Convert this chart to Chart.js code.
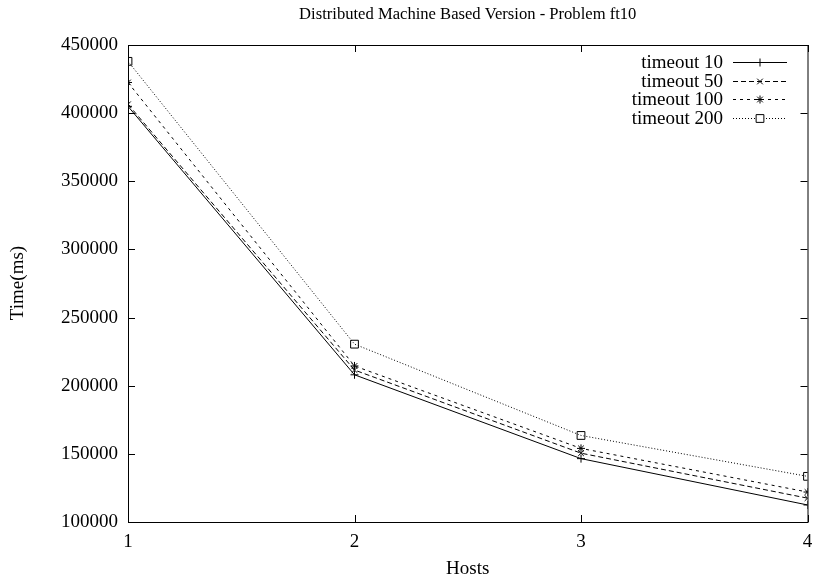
<!DOCTYPE html>
<html>
<head>
<meta charset="utf-8">
<script src="https://cdn.jsdelivr.net/npm/chart.js@4"></script>
<style>
  html, body { margin: 0; padding: 0; background: #fff; }
  #wrap { width: 814px; height: 579px; }
</style>
</head>
<body>
<div id="wrap"><canvas id="chart"></canvas></div>
<script>
const hosts = [1, 2, 3, 4];
const timeout10 = [405000, 208000, 146500, 112500];
const timeout50 = [406500, 211500, 150500, 117500];
const timeout100 = [422500, 214500, 154000, 122000];
const timeout200 = [438000, 230500, 163500, 133500];
const yTicks = [100000, 150000, 200000, 250000, 300000, 350000, 400000, 450000];

const FONT = "Liberation Serif";

function pts(vals) { return hosts.map((h, i) => ({ x: h, y: vals[i] })); }

function series(label, vals, dash, style, r) {
  return {
    label, data: pts(vals),
    borderColor: "#000", borderWidth: 1, borderDash: dash,
    pointStyle: style, pointRadius: r, pointBorderWidth: 1,
    pointBorderColor: "#000", pointBackgroundColor: "rgba(0,0,0,0)",
    fill: false, tension: 0
  };
}

// gnuplot-like frame, inward ticks, legend and labels
const frame = {
  id: "frame",
  afterDraw(chart) {
    const { ctx, chartArea: a, scales } = chart;
    ctx.save();
    ctx.strokeStyle = "#000";
    ctx.lineWidth = 1;
    ctx.setLineDash([]);
    ctx.strokeRect(a.left + 0.5, a.top + 0.5, a.right - a.left, a.bottom - a.top);
    const t = 7;
    ctx.beginPath();
    yTicks.forEach(v => {
      const y = Math.round(scales.y.getPixelForValue(v)) + 0.5;
      ctx.moveTo(a.left, y); ctx.lineTo(a.left + t, y);
      ctx.moveTo(a.right, y); ctx.lineTo(a.right - t, y);
    });
    hosts.forEach(h => {
      const x = Math.round(scales.x.getPixelForValue(h)) + 0.5;
      ctx.moveTo(x, a.bottom); ctx.lineTo(x, a.bottom - t);
      ctx.moveTo(x, a.top); ctx.lineTo(x, a.top + t);
    });
    ctx.stroke();

    // legend
    ctx.font = "19px '" + FONT + "'";
    ctx.textAlign = "right";
    ctx.textBaseline = "middle";
    chart.data.datasets.forEach((ds, i) => {
      const y = Math.round(62 + i * 18.7) + 0.5;
      ctx.fillStyle = "#000";
      ctx.fillText(ds.label, 723, y + 1);
      ctx.save();
      ctx.setLineDash(ds.borderDash);
      ctx.beginPath();
      ctx.moveTo(733, y);
      ctx.lineTo(787, y);
      ctx.stroke();
      ctx.restore();
      ctx.fillStyle = "#fff";
      Chart.helpers.drawPoint(ctx, { pointStyle: ds.pointStyle, radius: ds.pointRadius, borderWidth: 1 }, 760, y);
    });

    // titles
    ctx.fillStyle = "#000";
    ctx.textAlign = "center";
    ctx.font = "16.6px '" + FONT + "'";
    ctx.fillText("Distributed Machine Based Version - Problem ft10", (a.left + a.right) / 2, 15);
    ctx.font = "19px '" + FONT + "'";
    ctx.fillText("Hosts", (a.left + a.right) / 2, 569);
    ctx.translate(18, 283);
    ctx.rotate(-Math.PI / 2);
    ctx.fillText("Time(ms)", 0, 0);
    ctx.restore();
  }
};

new Chart(document.getElementById("chart"), {
  type: "line",
  data: {
    datasets: [
      series("timeout 10", timeout10, [], "cross", 4),
      series("timeout 50", timeout50, [5, 3], "crossRot", 4),
      series("timeout 100", timeout100, [3, 4], "star", 4),
      series("timeout 200", timeout200, [1, 2], "rect", 5.5)
    ]
  },
  options: {
    responsive: true,
    maintainAspectRatio: false,
    animation: false,
    layout: { padding: { top: 45, right: 3, left: 0, bottom: 0 } },
    plugins: { legend: { display: false }, tooltip: { enabled: false } },
    scales: {
      x: {
        type: "linear", min: 1, max: 4,
        afterBuildTicks: s => { s.ticks = hosts.map(v => ({ value: v })); },
        afterFit: s => { s.height = 57; s.paddingLeft = 0; s.paddingRight = 0; },
        grid: { display: false, drawTicks: false },
        border: { display: false },
        ticks: { color: "#000", padding: 9, font: { family: FONT, size: 19 } }
      },
      y: {
        min: 100000, max: 450000,
        afterBuildTicks: s => { s.ticks = yTicks.map(v => ({ value: v })); },
        afterFit: s => { s.width = 128; s.paddingTop = 0; s.paddingBottom = 0; },
        grid: { display: false, drawTicks: false },
        border: { display: false },
        ticks: { color: "#000", padding: 10, font: { family: FONT, size: 19 }, callback: v => String(v) }
      }
    }
  },
  plugins: [frame]
});
</script>
</body>
</html>
